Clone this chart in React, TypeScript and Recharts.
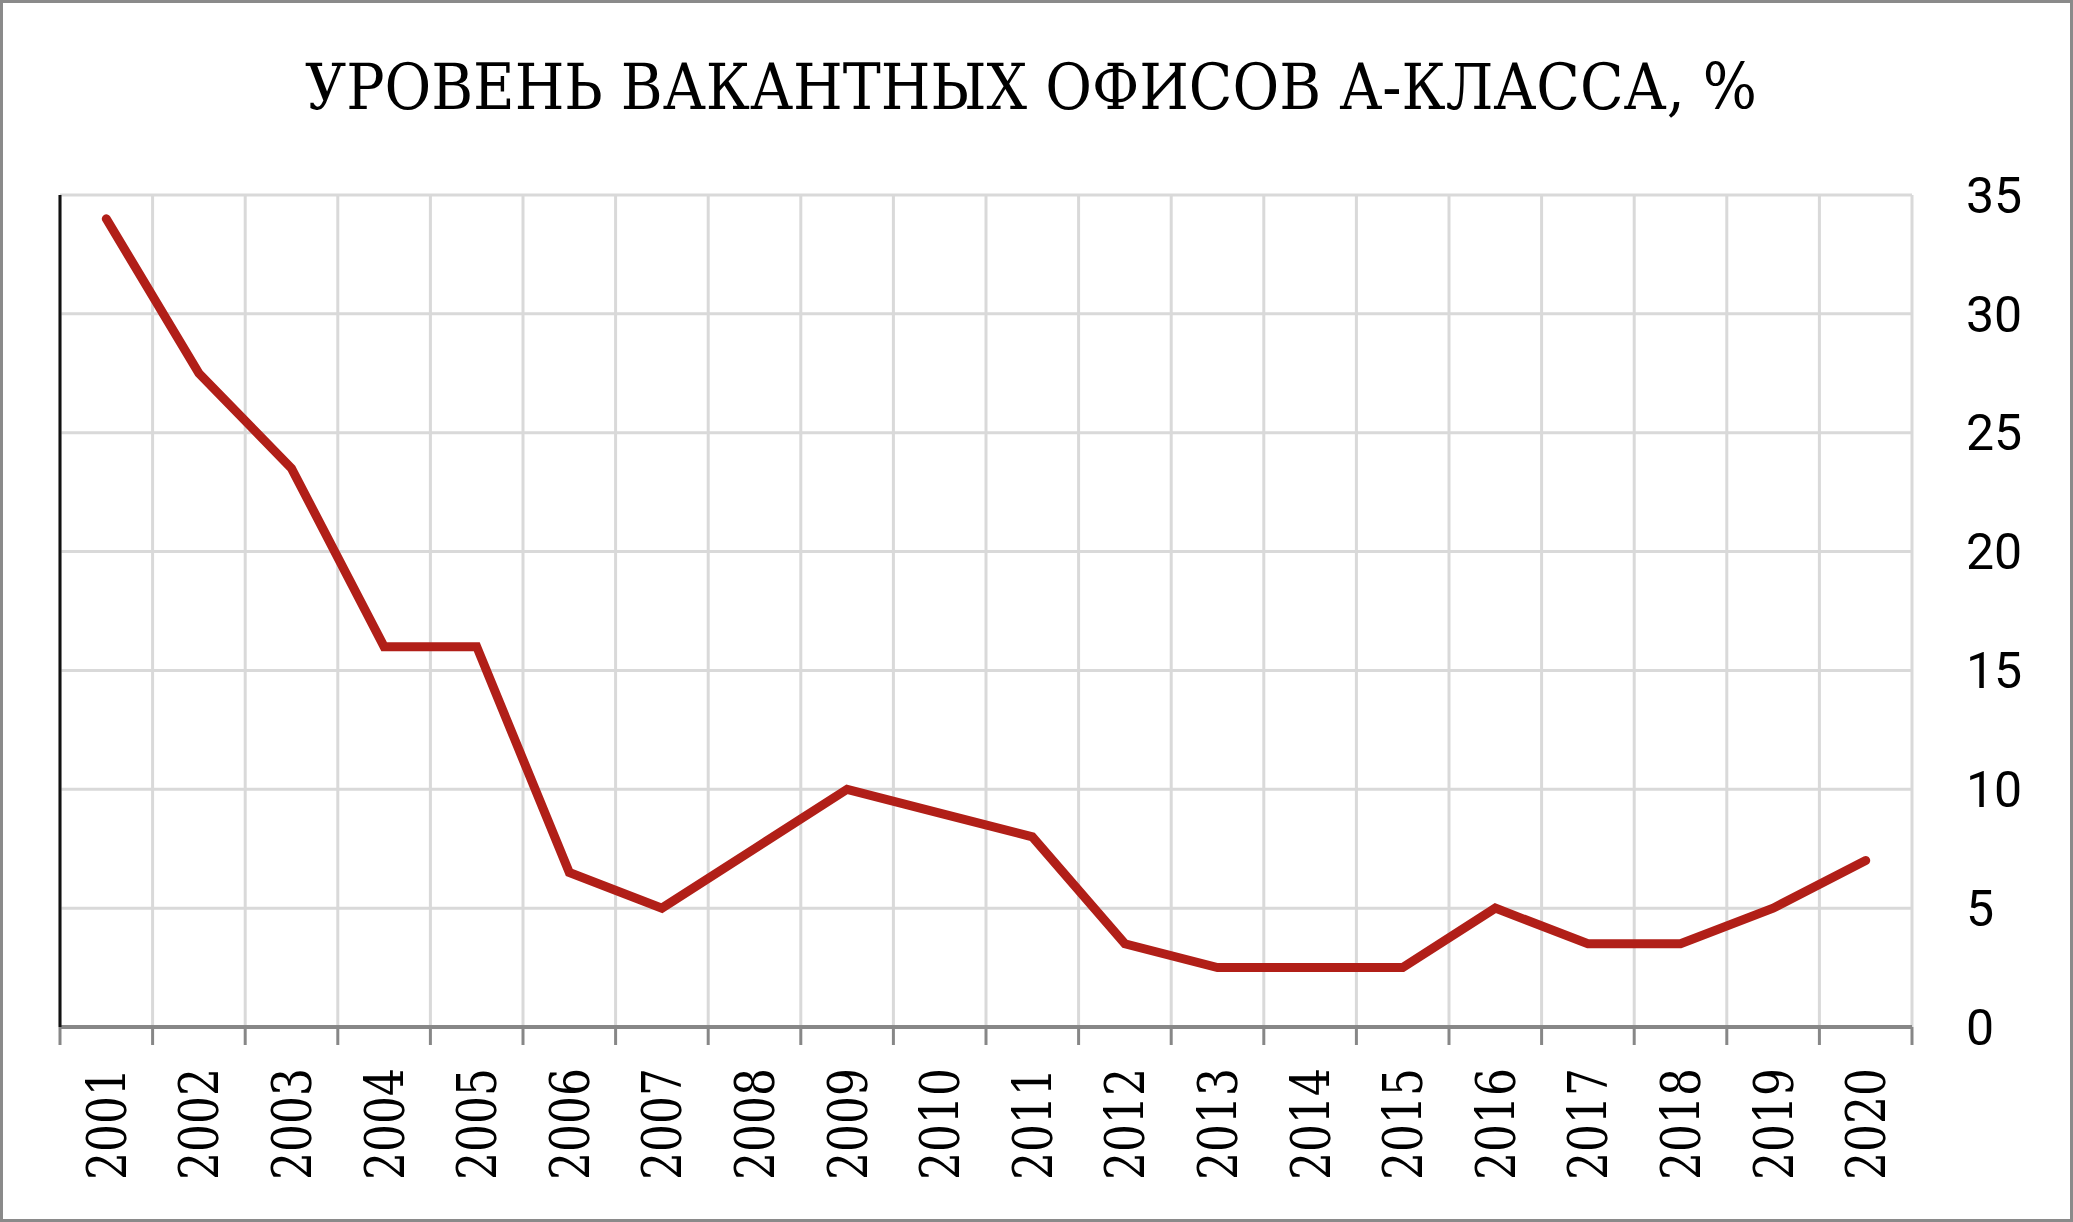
import React from "react";
import { LineChart, Line, XAxis, YAxis, CartesianGrid } from "recharts";

const years = ["2001","2002","2003","2004","2005","2006","2007","2008","2009","2010","2011","2012","2013","2014","2015","2016","2017","2018","2019","2020"];
const vacancy = [34, 27.5, 23.5, 16, 16, 6.5, 5, 7.5, 10, 9, 8, 3.5, 2.5, 2.5, 2.5, 5, 3.5, 3.5, 5, 7];
const yTicks = [0, 5, 10, 15, 20, 25, 30, 35];
const title = "УРОВЕНЬ ВАКАНТНЫХ ОФИСОВ А-КЛАССА, %";

const data = years.map((y, i) => ({ year: y, value: vacancy[i] }));

const W = 2073;
const H = 1222;
const TICK_MARGIN = 41;
const TICK_LEN = 18;
const AXIS_GRAY = "#878787";

const YearTick = (props: any) => {
  const { x, y, payload, index, width, visibleTicksCount } = props;
  const count = visibleTicksCount || years.length;
  const half = width ? width / count / 2 : 0;
  const axisY = y - TICK_MARGIN;
  return (
    <g>
      {half > 0 && (
        <line x1={x - half} x2={x - half} y1={axisY} y2={axisY + TICK_LEN} stroke={AXIS_GRAY} strokeWidth={3} />
      )}
      {half > 0 && index === count - 1 && (
        <line x1={x + half} x2={x + half} y1={axisY} y2={axisY + TICK_LEN} stroke={AXIS_GRAY} strokeWidth={3} />
      )}
      <text
        x={x}
        y={y}
        transform={`rotate(-90, ${x}, ${y})`}
        textAnchor="end"
        dy="0.36em"
        fontFamily="'DejaVu Serif', serif"
        fontSize={54}
        fill="#000"
        textLength={112}
        lengthAdjust="spacingAndGlyphs"
      >
        {payload.value}
      </text>
    </g>
  );
};

const bandEdgeCoords = ({ offset }: any) => {
  const n = years.length;
  return Array.from({ length: n + 1 }, (_, i) => offset.left + (offset.width * i) / n);
};

export default function App() {
  return (
    <div style={{ position: "absolute", left: 0, top: 0, width: W, height: H, background: "#fff", overflow: "hidden" }}>
      <LineChart
        width={W}
        height={H}
        data={data}
        margin={{ top: 195, right: 0, bottom: 0, left: 59 }}
        style={{ position: "absolute", left: 0, top: 0 }}
      >
        <CartesianGrid stroke="#d9d9d9" strokeWidth={3} verticalCoordinatesGenerator={bandEdgeCoords} />
        <XAxis
          dataKey="year"
          scale="band"
          height={195}
          interval={0}
          tickLine={false}
          axisLine={{ stroke: AXIS_GRAY, strokeWidth: 4 }}
          tickSize={0}
          tickMargin={TICK_MARGIN}
          tick={<YearTick />}
        />
        <YAxis
          yAxisId="left"
          orientation="left"
          width={1}
          domain={[0, 35]}
          ticks={yTicks}
          tick={false}
          tickLine={false}
          axisLine={{ stroke: "#111", strokeWidth: 3 }}
        />
        <YAxis
          orientation="right"
          width={161}
          domain={[0, 35]}
          ticks={yTicks}
          interval={0}
          tickLine={false}
          axisLine={false}
          tickSize={0}
          tickMargin={54}
          tick={{ fontFamily: "Roboto, sans-serif", fontSize: 50, fill: "#000" }}
        />
        <Line
          dataKey="value"
          stroke="#b11f18"
          strokeWidth={9}
          strokeLinecap="round"
          dot={false}
          activeDot={false}
          isAnimationActive={false}
        />
      </LineChart>
      <svg width={W} height={160} style={{ position: "absolute", left: 0, top: 0 }}>
        <text
          x={1031}
          y={109}
          textAnchor="middle"
          fontFamily="'DejaVu Serif', serif"
          fontSize={64}
          fill="#000"
          textLength={1452}
          lengthAdjust="spacingAndGlyphs"
        >
          {title}
        </text>
      </svg>
      <div
        style={{
          position: "absolute",
          left: 0,
          top: 0,
          width: W,
          height: H,
          boxSizing: "border-box",
          border: "3px solid #8a8a8a",
          pointerEvents: "none",
        }}
      />
    </div>
  );
}
